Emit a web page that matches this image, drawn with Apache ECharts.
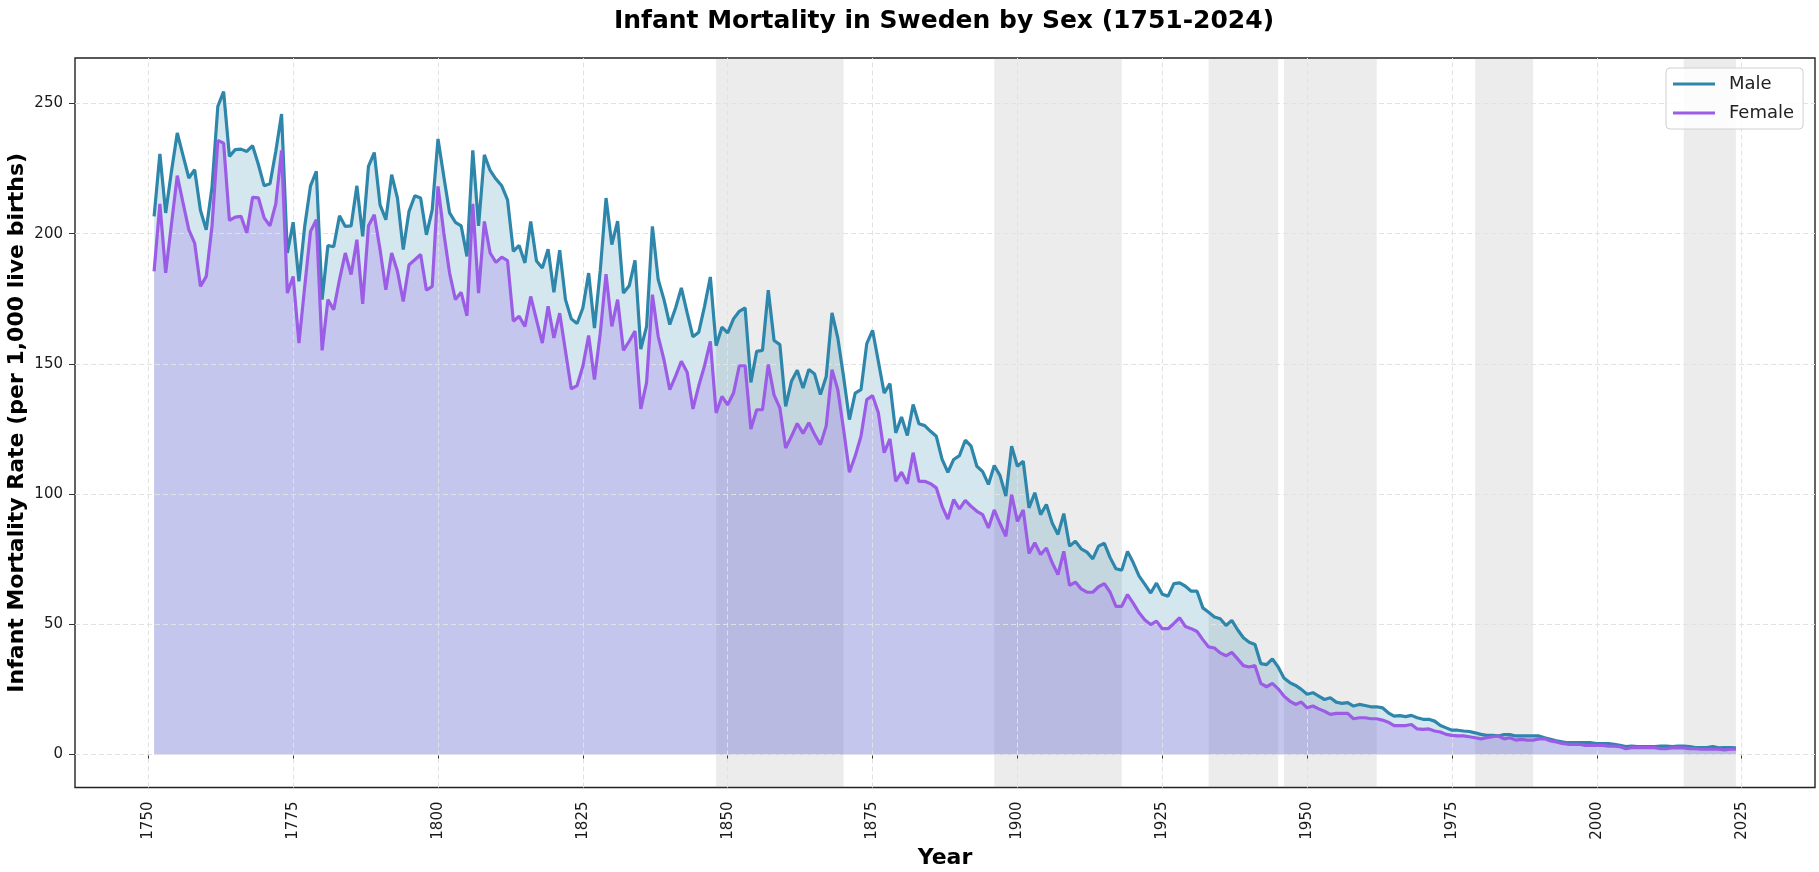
<!DOCTYPE html>
<html>
<head>
<meta charset="utf-8">
<script src="https://cdn.jsdelivr.net/npm/echarts@6/dist/echarts.min.js"></script>
<style>
html,body{margin:0;padding:0;background:#fff;}
#chart{width:1819px;height:872px;}
</style>
</head>
<body>
<div id="chart"></div>
<script>
// ---- Data ----
const startYear = 1751;
const male = [
206.7,230.7,208,224,238.7,230,221.4,224.6,209,201.5,
218,248.9,254.6,229.7,232.3,232.5,231.6,233.8,226.6,218.4,
219.2,231.6,246,192.6,204.4,181.7,203,218.4,224,174.7,
195.5,195,206.9,202.8,203,218.4,199,225.9,231.2,211.1,
205.4,222.7,213.7,193.9,208.6,214.6,213.7,199.6,209.2,236.4,
222,208,204.4,203,191.3,232,203,230.3,224.3,221,
218.4,213,193.2,195.5,188.8,204.7,189.5,186.8,194.1,177.5,
193.7,174.7,167.3,165.5,171.5,184.9,163.8,185.8,213.7,195.8,
204.8,177.2,180,189.8,155.7,164.4,202.8,182.4,174.7,165.1,
171.5,179.2,169.6,160.4,162.2,172.1,183.4,157,164.1,161.9,
167.3,170.2,171.5,142.9,154.8,155.2,178.3,159,157.4,133.7,
143.3,147.6,140.7,147.9,146.1,138.2,145.2,169.6,160,145,
128.6,138.8,140.1,157.8,162.9,150.9,138.8,142.4,123.5,129.6,
122.5,134.4,127,126.3,124.1,122.2,113.3,108.4,113.3,114.8,
120.7,118.4,110.7,108.6,103.7,111,107.1,99.2,118.4,110.7,
112.6,94.7,100.5,92.1,96,88.9,84.5,92.5,80,81.9,
79,77.7,75.1,80,81.1,75.6,71.3,70.8,78,73.6,
68.5,65.3,62,65.8,61.5,60.8,65.6,65.9,64.6,62.7,
62.7,56.3,54.6,52.8,52.1,49.5,51.5,47.9,44.8,43.1,
42.2,34.9,34.5,36.7,33.6,29.4,27.6,26.5,25,23.1,
23.7,22.4,21.1,21.8,20.1,19.6,19.9,18.6,19.2,18.8,
18.3,18.3,17.9,16,14.7,14.9,14.5,15,14.1,13.5,
13.5,12.8,11.1,10.2,9.3,9.3,9,8.8,8.3,7.7,
7.3,7.3,7.1,7.6,7.6,7.1,7.1,7.1,7.1,7.1,
6.4,5.8,5.2,4.8,4.5,4.5,4.5,4.5,4.5,4.2,
4.2,4.2,3.9,3.5,3,3.2,3,3,3,3,
3.2,3.2,3,3.2,3.2,3,2.6,2.6,2.6,3,
2.5,2.6,2.6,2.5
];
const female = [
185.5,211.5,185,203.7,222.3,211.8,201.5,196.4,179.8,183.6,
203,235.8,234.8,205.1,206.4,206.7,200.3,214,213.8,206.1,
203,211.5,232,177.2,183.6,158,179.8,200.9,205.4,155.2,
174.7,170.8,182.4,192.6,184.3,197.7,173.1,203.1,207.3,193.9,
178.5,192.6,185.6,174,188.1,190,192,178.3,179.8,218.2,
200.3,184.9,174.7,177.5,168.5,211.5,177.2,204.7,192.6,189,
191,189.7,166.4,168.3,164.4,175.9,166.9,158,172.1,160,
169.5,155,140.4,141.7,149.1,160.9,144,161.8,184.5,164.4,
174.7,155.2,158.7,162.6,132.7,142.9,176.6,160.6,151.6,140.1,
145.3,151,146.8,132.7,141.6,149.3,158.7,131.2,137.5,134.3,
138.8,149.3,149.3,125,132.4,132.4,149.8,138,133.1,117.7,
122.2,127.1,123.3,127.4,122.9,119,126.2,147.8,140.1,124.7,
108.4,114.6,122.2,136.3,137.8,131.2,115.9,121.2,104.9,108.4,
104,115.9,104.9,104.9,104,102.4,95.3,90.4,97.9,94.3,
97.6,95.3,93.4,92.1,87,93.9,88.7,83.8,99.8,89.5,
93.9,77.2,81.3,76.8,79.3,73.6,69.1,78,64.9,66.2,
63.6,62.3,62.3,64.4,65.6,62.3,56.9,56.9,61.4,58,
54.4,51.6,49.9,51.2,48.3,48.3,50.3,52.5,49.1,48.3,
47.2,44.1,41.3,40.9,39,37.9,39.2,36.7,34.1,33.6,
34.1,27.3,26,27.3,25.2,22.4,20.5,19.2,20.1,17.9,
18.6,17.5,16.6,15.4,15.8,15.8,15.8,13.7,14.1,14.1,
13.7,13.7,13.2,12.4,11.1,11.1,11.1,11.5,9.8,9.6,
9.8,9,8.6,7.7,7.3,7.1,7.1,6.8,6.4,6,
6.4,6.8,7.1,6,6.4,5.5,5.8,5.5,5.5,6,
6,5.2,4.8,4.2,3.9,3.9,3.9,3.5,3.5,3.5,
3.5,3.2,3.2,3,2.2,2.6,2.6,2.6,2.6,2.6,
2.2,2.2,2.5,2.5,2.5,2.2,2.2,2,2,2,
2,1.7,2,2
];
const years = male.map((_, i) => startYear + i);
const shadedPeriods = [[1848,1870],[1896,1918],[1933,1945],[1946,1962],[1979,1989],[2015,2024]];
const xTicks = [1750,1775,1800,1825,1850,1875,1900,1925,1950,1975,2000,2025];
const yTicks = [0,50,100,150,200,250];

const FONT = 'DejaVu Sans';
const maleColor = '#2E86AB';
const femaleColor = '#9B5DE5';

const malePts = years.map((y, i) => [y, male[i]]);
const femalePts = years.map((y, i) => [y, female[i]]);

const chart = echarts.init(document.getElementById('chart'), null, {renderer: 'canvas'});
chart.setOption({
  animation: false,
  backgroundColor: '#ffffff',
  title: {
    text: 'Infant Mortality in Sweden by Sex (1751-2024)',
    left: 944, top: 9, textAlign: 'center', padding: 0,
    textStyle: {fontFamily: FONT, fontWeight: 'bold', fontSize: 25, color: '#000'}
  },
  legend: {
    data: ['Male', 'Female'],
    orient: 'vertical',
    left: 1666, top: 68,
    padding: [6, 9, 6, 7],
    itemGap: 9,
    itemWidth: 42, itemHeight: 3,
    icon: 'rect',
    backgroundColor: 'rgba(255,255,255,0.85)',
    borderColor: '#d0d0d0', borderWidth: 1, borderRadius: 4,
    textStyle: {fontFamily: FONT, fontSize: 18, color: '#222', lineHeight: 20, padding: [0,0,0,9]}
  },
  grid: {
    left: 75, top: 58, right: 4, bottom: 84.5,
    containLabel: false, outerBoundsMode: 'none',
    show: true, borderColor: '#222', borderWidth: 1.4, backgroundColor: 'transparent'
  },
  xAxis: {
    type: 'value', min: 1737.35, max: 2037.65,
    name: 'Year', nameLocation: 'middle', nameGap: 57,
    nameTextStyle: {fontFamily: FONT, fontWeight: 'bold', fontSize: 22, color: '#000'},
    axisLine: {show: false},
    axisTick: {show: true, length: 6, customValues: xTicks, lineStyle: {color: '#333', width: 1}},
    axisLabel: {customValues: xTicks, rotate: 90, margin: 14, fontFamily: FONT, fontSize: 15, color: '#1a1a1a',
      formatter: v => String(v)},
    splitLine: {show: false}
  },
  yAxis: {
    type: 'value', min: -12.7, max: 267.5,
    name: 'Infant Mortality Rate (per 1,000 live births)', nameLocation: 'middle', nameGap: 47,
    nameMoveOverlap: false,
    nameTextStyle: {fontFamily: FONT, fontWeight: 'bold', fontSize: 22, color: '#000'},
    axisLine: {show: false},
    axisTick: {show: true, length: 6, customValues: yTicks, lineStyle: {color: '#333', width: 1}},
    axisLabel: {customValues: yTicks, margin: 12, fontFamily: FONT, fontSize: 15, color: '#1a1a1a',
      formatter: v => String(v)},
    splitLine: {show: false}
  },
  series: [
    {
      name: 'bands', type: 'line', z: 1, data: [], silent: true,
      showSymbol: false, lineStyle: {width: 0},
      markArea: {
        silent: true,
        itemStyle: {color: 'rgba(128,128,128,0.15)'},
        data: shadedPeriods.map(p => [{xAxis: p[0]}, {xAxis: p[1]}])
      }
    },
    {
      name: 'femaleFill', type: 'line', z: 2, data: femalePts, silent: true,
      showSymbol: false, symbol: 'none',
      lineStyle: {width: 0},
      areaStyle: {color: 'rgba(110,112,212,0.4)', opacity: 1, origin: 'auto'}
    },
    {
      name: 'maleBand', type: 'custom', z: 2, silent: true,
      data: [[startYear, 0]],
      renderItem: function (params, api) {
        const pts = [];
        for (let i = 0; i < years.length; i++) pts.push(api.coord([years[i], male[i]]));
        for (let i = years.length - 1; i >= 0; i--) pts.push(api.coord([years[i], female[i]]));
        return {type: 'polygon', shape: {points: pts}, style: {fill: 'rgba(46,134,171,0.2)', stroke: null}};
      }
    },
    {
      name: 'gridlines', type: 'line', z: 3, data: [], silent: true,
      showSymbol: false, lineStyle: {width: 0},
      markLine: {
        silent: true, symbol: ['none', 'none'], label: {show: false}, z: 3,
        lineStyle: {color: '#e2e2e2', type: [5, 3], width: 1},
        data: xTicks.map(v => ({xAxis: v})).concat(yTicks.map(v => ({yAxis: v})))
      }
    },
    {
      name: 'Male', type: 'line', z: 6, data: malePts,
      showSymbol: false, symbol: 'none', color: maleColor,
      lineStyle: {color: maleColor, width: 3.2}
    },
    {
      name: 'Female', type: 'line', z: 7, data: femalePts,
      showSymbol: false, symbol: 'none', color: femaleColor,
      lineStyle: {color: femaleColor, width: 3.2}
    }
  ]
});
</script>
</body>
</html>
